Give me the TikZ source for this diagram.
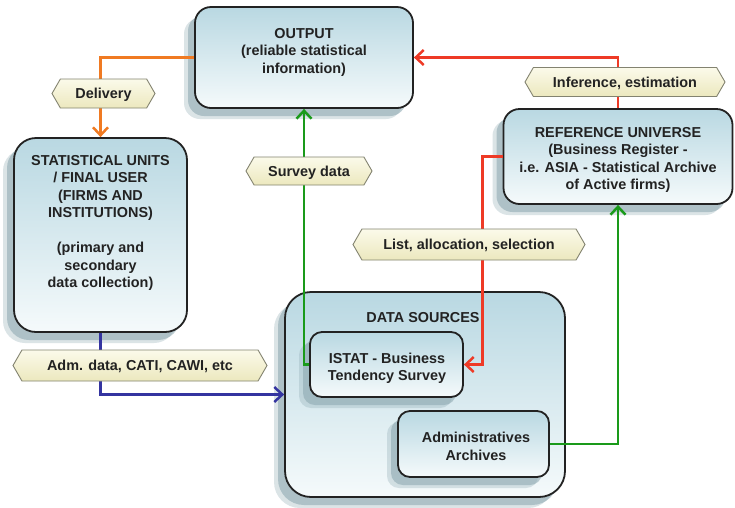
\documentclass[tikz,border=0pt]{standalone}
\usepackage{fontspec}
\setmainfont{Liberation Sans}
\usetikzlibrary{shapes.symbols,shadows,arrows.meta}
\definecolor{boxtop}{HTML}{B9D8E2}
\definecolor{boxbot}{HTML}{F5FAFB}
\definecolor{shadowc}{HTML}{8AA6AF}
\definecolor{tagtop}{HTML}{FBFAEA}
\definecolor{tagbot}{HTML}{ECE8BE}
\definecolor{tagborder}{HTML}{838370}
\definecolor{corange}{HTML}{F07A22}
\definecolor{cred}{HTML}{EE3A26}
\definecolor{cgreen}{HTML}{1A9A1A}
\definecolor{cblue}{HTML}{3434A0}
\definecolor{ink}{HTML}{222222}
\newcommand\diafont{\bfseries\fontsize{14.4}{17.5}\selectfont}
\begin{document}
\begin{tikzpicture}[x=1pt,y=-1pt,
  box/.style={draw=ink, line width=1.8pt, top color=boxtop, bottom color=boxbot,
    inner sep=0pt,
    drop shadow={shadow xshift=-11pt,shadow yshift=-11pt,opacity=.3,fill=shadowc},
    drop shadow={shadow xshift=-7pt,shadow yshift=-8pt,opacity=.55,fill=shadowc}},
  txt/.style={align=center, font=\diafont, text=ink, inner sep=0pt},
  tag/.style={signal, signal to=west and east, signal pointer angle=120,
    draw=tagborder, line width=0.9pt, top color=tagtop, bottom color=tagbot,
    font=\diafont, text=ink, inner sep=0pt, text height=10.3pt, text depth=0pt},
  conn/.style={line width=2.8pt, -{Straight Barb[length=8pt,width=15pt,line width=2.5pt]}},
]
\useasboundingbox (0,0) rectangle (735,507);
\fill[white] (0,0) rectangle (735,507);

% boxes
\node[box, rounded corners=16pt, minimum width=218pt, minimum height=101pt] (output) at (304,57.5) {};
\node[txt] (outputtxt) at (304,52) {OUTPUT\\(reliable statistical\\information)};

\node[box, rounded corners=22pt, minimum width=173pt, minimum height=194pt] (stat) at (100.5,235) {};
\node[txt] (stattxt) at (100.5,223) {STATISTICAL UNITS\\/ FINAL USER\\(FIRMS AND\\INSTITUTIONS)\\[17.5pt](primary and\\secondary\\data collection)};

\node[box, rounded corners=16pt, minimum width=229pt, minimum height=95pt] (ref) at (618,156.5) {};
\node[txt] (reftxt) at (618,160) {REFERENCE UNIVERSE\\(Business Register -\\i.e. ASIA - Statistical Archive\\of Active firms)};

\node[box, rounded corners=26pt, minimum width=280pt, minimum height=205pt] (datasrc) at (425,394.5) {};
\node[txt] (datasrctxt) at (423,318) {DATA SOURCES};

\node[box, rounded corners=12pt, minimum width=153pt, minimum height=65pt] (istat) at (386.5,364.5) {};
\node[txt] (istattxt) at (387,368.5) {ISTAT - Business\\Tendency Survey};
\node[box, rounded corners=12pt, minimum width=151pt, minimum height=66pt] (admin) at (473.5,444) {};
\node[txt] (admintxt) at (476,446.5) {Administratives\\Archives};

% connectors
\draw[conn, corange] (output.west) -| (stat.north);
\draw[conn, cred] (ref.north) |- (output.east);
\draw[conn, cred] (ref.west) -- ++(-20,0) |- (istat.east);
\draw[conn, cgreen] (istat.west) -| (output.south);
\draw[conn, cgreen] (admin.east) -| (ref.south);
\draw[conn, cblue] (stat.south) |- (datasrc.west);

% tags
\node[tag, minimum width=103pt, minimum height=29pt] (delivery) at (103.5,93.5) {Delivery};
\node[tag, minimum width=126pt, minimum height=28pt] (survey) at (309,171) {Survey data};
\node[tag, minimum width=200pt, minimum height=29pt] (inference) at (625,82) {Inference, estimation};
\node[tag, minimum width=232pt, minimum height=31pt] (list) at (469,244.5) {List, allocation, selection};
\node[tag, minimum width=254pt, minimum height=31pt] (adm) at (140,365.5) {Adm. data, CATI, CAWI, etc};
\end{tikzpicture}
\end{document}
